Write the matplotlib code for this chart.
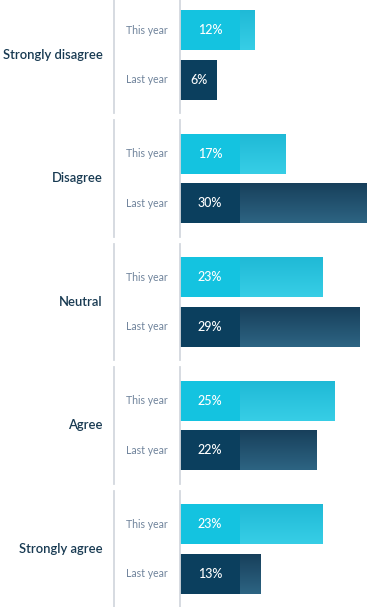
import numpy as np
import matplotlib.pyplot as plt
import matplotlib.transforms as mtransforms
from matplotlib.colors import LinearSegmentedColormap

# data
categories = ['Strongly disagree', 'Disagree', 'Neutral', 'Agree', 'Strongly agree']
this_year = [12, 17, 23, 25, 23]
last_year = [6, 30, 29, 22, 13]
series_names = ['This year', 'Last year']

# style
W, H = 388, 607
light = '#14C3E0'
dark = '#0B3F5E'
light_tex = LinearSegmentedColormap.from_list('lt', ['#1FB9D6', '#37CEE6'])
dark_tex = LinearSegmentedColormap.from_list('dt', ['#173F5A', '#2D6483'])
line_col = '#D3D8DE'
cat_col = '#183A52'
sub_col = '#70849C'
seg = 9.7          # width of the solid part of each bar (in %)
off = 0.2          # offset of the two bars from the group centre
bh = 0.325         # bar height

plt.rcParams['font.family'] = ['Lato', 'DejaVu Sans']

fig = plt.figure(figsize=(W / 100, H / 100), dpi=100)
ax = fig.add_axes([180 / W, 0, 1 - 180 / W, 1])
ax.axis('off')

trans = mtransforms.blended_transform_factory(fig.transFigure, ax.transData)

def draw_bar(y, v, col, cmap):
    ax.barh(y, v, height=bh, color=col, linewidth=0, zorder=2)
    if v > seg:
        grad = np.linspace(0, 1, 50).reshape(-1, 1)
        im = ax.imshow(grad, cmap=cmap, aspect='auto', interpolation='bicubic',
                       extent=(seg, v, y + bh / 2, y - bh / 2), zorder=3)
        rect = plt.Rectangle((seg, y - bh / 2), v - seg, bh, transform=ax.transData)
        im.set_clip_path(rect)
    ax.text(min(v, seg) / 2, y, f'{v}%', color='white', fontsize=9,
            fontweight='medium', ha='center', va='center', zorder=4)

for i, cat in enumerate(categories):
    draw_bar(i - off, this_year[i], light, light_tex)
    draw_bar(i + off, last_year[i], dark, dark_tex)

    # separators
    ax.plot([0, 0], [i - 0.47, i + 0.47], color=line_col, lw=1.3, zorder=5,
            clip_on=False)
    ax.plot([114 / W, 114 / W], [i - 0.47, i + 0.47], color=line_col, lw=1.3,
            transform=trans, clip_on=False)

    ax.text(103 / W, i, cat, transform=trans, ha='right', va='center',
            fontsize=9.4, fontweight='semibold', color=cat_col)
    ax.text(168 / W, i - off, series_names[0], transform=trans, ha='right',
            va='center', fontsize=7.6, color=sub_col)
    ax.text(168 / W, i + off, series_names[1], transform=trans, ha='right',
            va='center', fontsize=7.6, color=sub_col)

ax.set_xlim(0, 33.5)
ax.set_ylim(4.47, -0.445)

fig.savefig('out.png', dpi=100)
